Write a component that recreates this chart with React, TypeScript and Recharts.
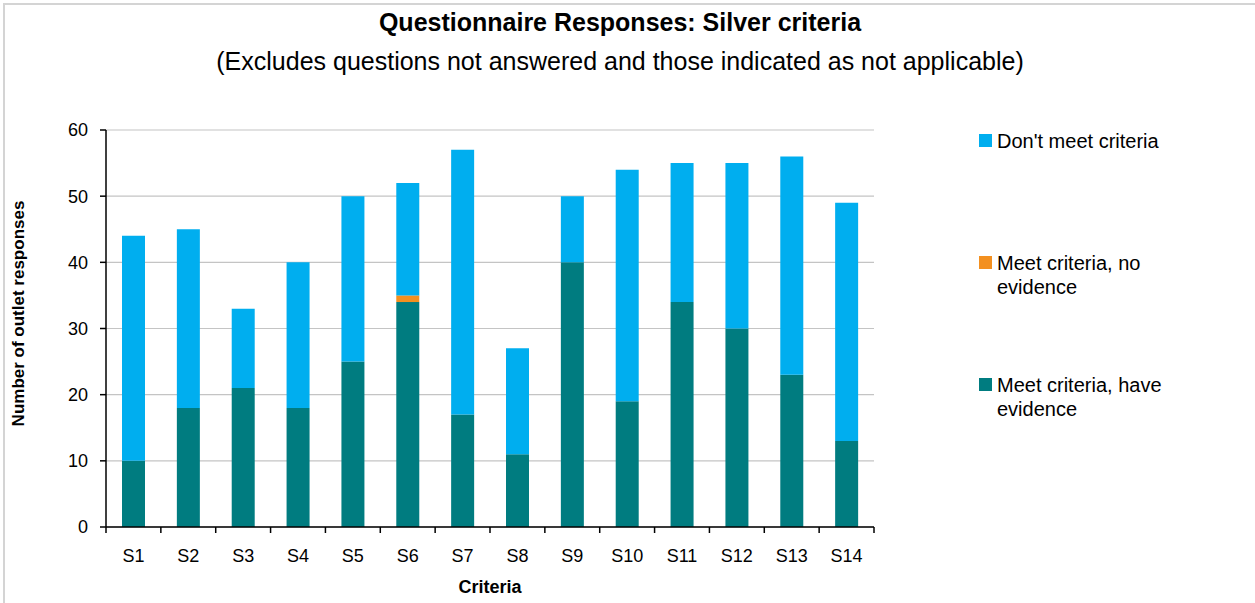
import { BarChart, Bar, XAxis, YAxis, CartesianGrid, Legend, Label } from "recharts";

const criteria = ["S1", "S2", "S3", "S4", "S5", "S6", "S7", "S8", "S9", "S10", "S11", "S12", "S13", "S14"];
const haveEvidence = [10, 18, 21, 18, 25, 34, 17, 11, 40, 19, 34, 30, 23, 13];
const noEvidence = [0, 0, 0, 0, 0, 1, 0, 0, 0, 0, 0, 0, 0, 0];
const dontMeet = [34, 27, 12, 22, 25, 17, 40, 16, 10, 35, 21, 25, 33, 36];
const yTicks = [0, 10, 20, 30, 40, 50, 60];
// legend lists the stack from the top down
const legendOrder = ["dont", "noEv", "have"];

const data = criteria.map((name, i) => ({
  name,
  have: haveEvidence[i],
  noEv: noEvidence[i],
  dont: dontMeet[i],
}));

const WIDTH = 1255;
const HEIGHT = 603;
const MARGIN = { top: 130, right: 381, bottom: 0, left: 0 };
const Y_AXIS_W = 106;
const X_AXIS_H = 76;
const PLOT_LEFT = MARGIN.left + Y_AXIS_W;
const PLOT_RIGHT = WIDTH - MARGIN.right;
const PLOT_BOTTOM = HEIGHT - MARGIN.bottom - X_AXIS_H;
const BAND = (PLOT_RIGHT - PLOT_LEFT) / criteria.length;
const FONT = "'Liberation Sans', Arial, sans-serif";

// Excel-style ticks: marks sit on the category boundaries, labels in the middle
const CategoryTick = (props: any) => {
  const { x, index, payload } = props;
  const half = BAND / 2;
  return (
    <g>
      <line x1={x - half} x2={x - half} y1={PLOT_BOTTOM} y2={PLOT_BOTTOM + 6} stroke="#000" strokeWidth={1.5} />
      {index === criteria.length - 1 && (
        <line x1={x + half} x2={x + half} y1={PLOT_BOTTOM} y2={PLOT_BOTTOM + 6} stroke="#000" strokeWidth={1.5} />
      )}
      <text x={x} y={PLOT_BOTTOM + 35} textAnchor="middle" fontSize={18} fill="#000" fontFamily={FONT}>
        {payload.value}
      </text>
    </g>
  );
};

const YTitle = (props: any) => {
  const { viewBox } = props;
  const cx = 18;
  const cy = viewBox.y + viewBox.height / 2 - 15;
  return (
    <text
      transform={`translate(${cx},${cy}) rotate(-90)`}
      textAnchor="middle"
      dominantBaseline="central"
      fontSize={17}
      fontWeight="bold"
      fill="#000"
      fontFamily={FONT}
    >
      Number of outlet responses
    </text>
  );
};

const SideLegend = (props: any) => {
  const items = [...(props.payload || [])].sort(
    (a: any, b: any) => legendOrder.indexOf(a.dataKey) - legendOrder.indexOf(b.dataKey)
  );
  return (
    <div style={{ fontFamily: FONT, fontSize: 20, color: "#000" }}>
      {items.map((item: any) => (
        <div key={item.value} style={{ position: "relative", height: 122, paddingLeft: 18 }}>
          <span
            style={{
              position: "absolute",
              left: 0,
              top: 5,
              width: 13,
              height: 13,
              background: item.color,
            }}
          />
          <div style={{ lineHeight: "24px", width: 180 }}>{item.value}</div>
        </div>
      ))}
    </div>
  );
};

export default function App() {
  return (
    <div style={{ position: "absolute", left: 0, top: 0, width: WIDTH, height: HEIGHT, background: "#fff", fontFamily: FONT, overflow: "hidden" }}>
      <div
        style={{
          position: "absolute",
          left: 3,
          top: 3,
          width: WIDTH,
          height: HEIGHT,
          borderTop: "2px solid #d4d4d4",
          borderLeft: "2px solid #d4d4d4",
        }}
      />
      <div style={{ position: "absolute", left: 0, width: 1240, top: 10, textAlign: "center", fontSize: 25, lineHeight: "25px", fontWeight: "bold" }}>
        Questionnaire Responses: Silver criteria
      </div>
      <div style={{ position: "absolute", left: 0, width: 1240, top: 49, textAlign: "center", fontSize: 25, lineHeight: "25px" }}>
        (Excludes questions not answered and those indicated as not applicable)
      </div>
      <div style={{ position: "absolute", left: 0, top: 0 }}>
        <BarChart width={WIDTH} height={HEIGHT} data={data} margin={MARGIN} barSize={23}>
          <CartesianGrid vertical={false} stroke="#c4c4c4" strokeWidth={1.2} />
          <XAxis
            dataKey="name"
            interval={0}
            height={X_AXIS_H}
            tickLine={false}
            axisLine={{ stroke: "#000", strokeWidth: 1.5 }}
            tick={<CategoryTick />}
          >
            <Label value="Criteria" position="insideBottom" offset={10} fontSize={18} fontWeight="bold" fill="#000" fontFamily={FONT} />
          </XAxis>
          <YAxis
            width={Y_AXIS_W}
            domain={[0, 60]}
            ticks={yTicks}
            interval={0}
            tickSize={6}
            tickMargin={12}
            tickLine={{ stroke: "#000", strokeWidth: 1.5 }}
            axisLine={{ stroke: "#000", strokeWidth: 1.5 }}
            tick={{ fontSize: 18, fill: "#000", fontFamily: FONT }}
          >
            <Label content={<YTitle />} />
          </YAxis>
          <YAxis
            yAxisId="frame"
            orientation="right"
            width={0}
            domain={[0, 60]}
            tick={false}
            tickLine={false}
            axisLine={{ stroke: "#a6a6a6", strokeWidth: 1.5 }}
          />
          <Legend
            layout="horizontal"
            verticalAlign="middle"
            align="center"
            width={220}
            content={<SideLegend />}
            wrapperStyle={{ left: 979, top: 129, width: 220 }}
          />
          <Bar dataKey="have" name="Meet criteria, have evidence" stackId="s" fill="#007C80" isAnimationActive={false} />
          <Bar dataKey="noEv" name="Meet criteria, no evidence" stackId="s" fill="#F39020" isAnimationActive={false} />
          <Bar dataKey="dont" name="Don't meet criteria" stackId="s" fill="#00AEEF" isAnimationActive={false} />
        </BarChart>
      </div>
    </div>
  );
}
